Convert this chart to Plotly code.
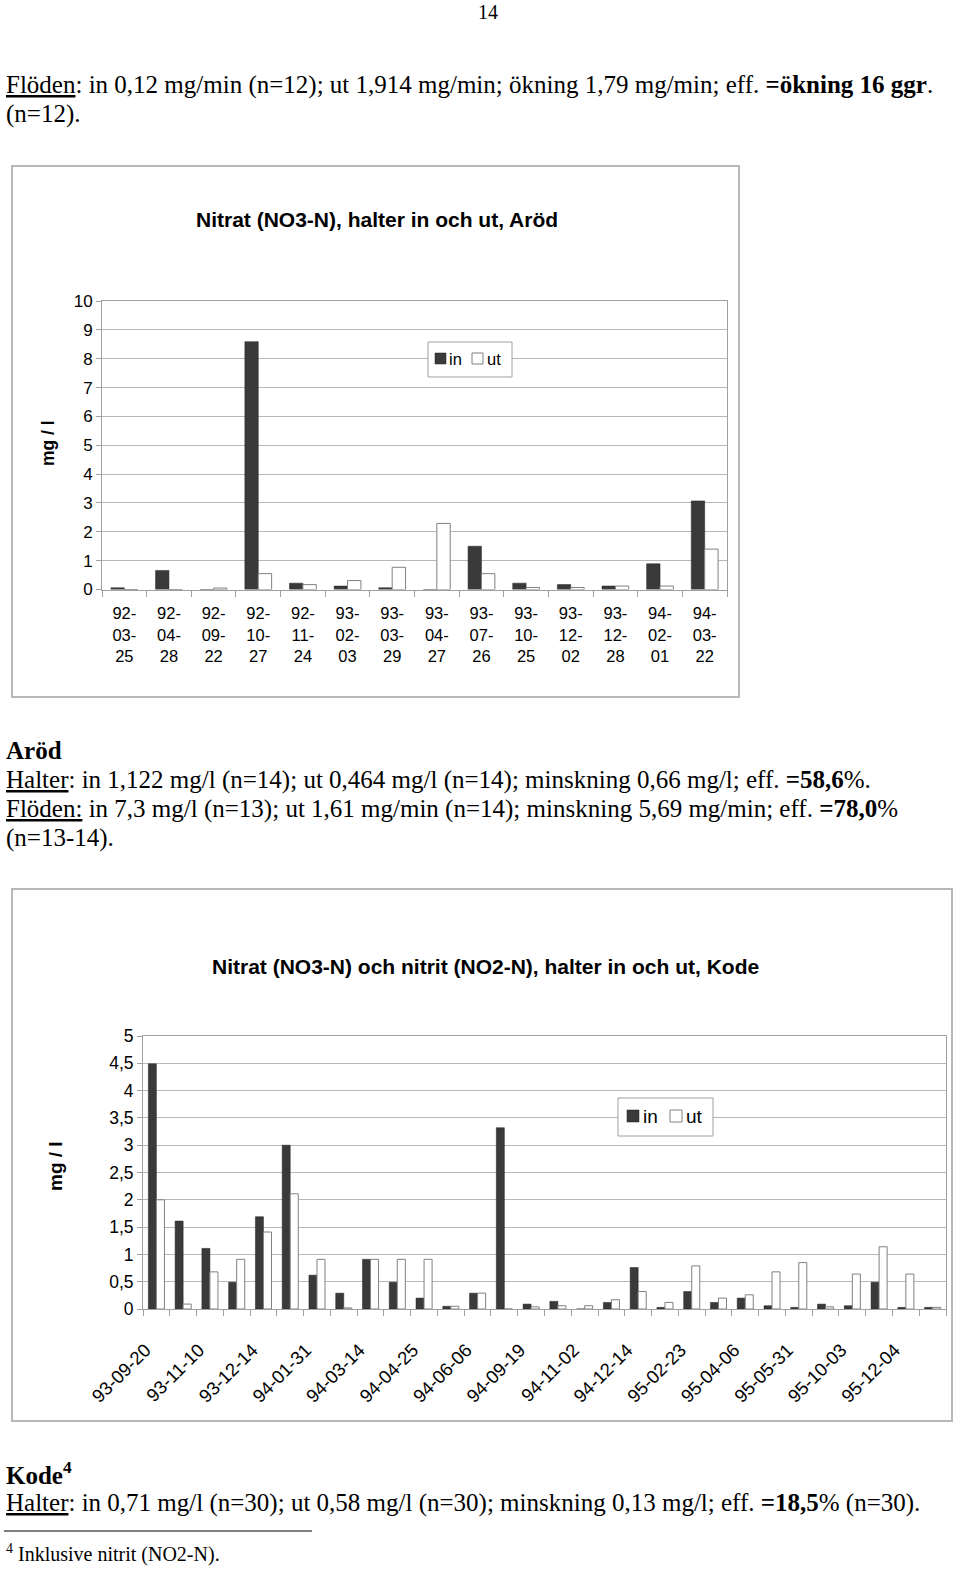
import plotly.graph_objects as go

W, H = 960, 1574


def fx(px):
    return px / W


def fy(py):
    return 1 - py / H


# ---------------- data: chart 1 (Aröd) ----------------
aro_dates = ["92-03-25", "92-04-28", "92-09-22", "92-10-27", "92-11-24", "93-02-03", "93-03-29",
             "93-04-27", "93-07-26", "93-10-25", "93-12-02", "93-12-28", "94-02-01", "94-03-22"]
aro_in = [0.06, 0.66, 0.0, 8.59, 0.22, 0.12, 0.06, 0.0, 1.50, 0.22, 0.17, 0.12, 0.89, 3.07]
aro_ut = [0.0, 0.0, 0.05, 0.55, 0.17, 0.31, 0.77, 2.29, 0.55, 0.07, 0.07, 0.12, 0.12, 1.40]

# ---------------- data: chart 2 (Kode) ----------------
kode_labels = ["93-09-20", "93-11-10", "93-12-14", "94-01-31", "94-03-14", "94-04-25", "94-06-06",
               "94-09-19", "94-11-02", "94-12-14", "95-02-23", "95-04-06", "95-05-31", "95-10-03",
               "95-12-04"]
kode_in = [4.49, 1.61, 1.11, 0.49, 1.69, 3.00, 0.62, 0.29, 0.91, 0.49, 0.20, 0.05, 0.29, 3.32, 0.09,
           0.14, 0.0, 0.12, 0.76, 0.03, 0.32, 0.12, 0.20, 0.06, 0.03, 0.09, 0.06, 0.49, 0.03, 0.03]
kode_ut = [2.00, 0.09, 0.68, 0.91, 1.41, 2.11, 0.91, 0.02, 0.91, 0.91, 0.91, 0.05, 0.29, 0.0, 0.04,
           0.06, 0.06, 0.17, 0.32, 0.12, 0.79, 0.20, 0.26, 0.68, 0.85, 0.04, 0.64, 1.14, 0.64, 0.03]
kode_x = list(range(len(kode_in)))
series_names = ["in", "ut"]

IN_COLOR = "#3a3a3a"
UT_LINE = "#808080"
GRID = "#b8b8b8"
AXL = "#a0a0a0"
SANS = "Arial, Liberation Sans, sans-serif"
SERIF = "Liberation Serif, Times New Roman, serif"

aro_cat = ["<br>".join([d[:3], d[3:6], d[6:]]) for d in aro_dates]

in_marker = dict(color=IN_COLOR, line=dict(color="#222", width=0.5))
ut_marker = dict(color="white", line=dict(color=UT_LINE, width=1))

fig = go.Figure()
fig.add_trace(go.Bar(x=aro_cat, y=aro_in, name=series_names[0], marker=in_marker,
                     xaxis="x", yaxis="y", offsetgroup="a", showlegend=False))
fig.add_trace(go.Bar(x=aro_cat, y=aro_ut, name=series_names[1], marker=ut_marker,
                     xaxis="x", yaxis="y", offsetgroup="b", showlegend=False))
fig.add_trace(go.Bar(x=kode_x, y=kode_in, name=series_names[0], marker=in_marker,
                     xaxis="x2", yaxis="y2", offsetgroup="a", showlegend=False))
fig.add_trace(go.Bar(x=kode_x, y=kode_ut, name=series_names[1], marker=ut_marker,
                     xaxis="x2", yaxis="y2", offsetgroup="b", showlegend=False))

axis_common = dict(showline=True, linecolor=AXL, linewidth=1, mirror=True, zeroline=False,
                   automargin=False)

fig.update_layout(
    width=W, height=H, margin=dict(l=0, r=0, t=0, b=0, autoexpand=False),
    paper_bgcolor="white", plot_bgcolor="white",
    barmode="group", bargap=0.4, bargroupgap=0.0,
    separators=", ",
    showlegend=False,
    font=dict(family=SANS, color="black"),
    xaxis=dict(domain=[fx(102), fx(727)], anchor="y", type="category", tickson="boundaries",
               ticks="outside", ticklen=6, tickcolor=AXL, showgrid=False, ticklabelstandoff=9,
               tickfont=dict(size=16.5, family=SANS), **axis_common),
    yaxis=dict(domain=[fy(589.5), fy(301)], anchor="x", range=[0, 10], dtick=1,
               ticks="outside", ticklen=5, tickcolor=AXL, showgrid=True, gridcolor=GRID,
               tickfont=dict(size=17, family=SANS), **axis_common),
    xaxis2=dict(domain=[fx(143), fx(946)], anchor="y2", range=[-0.5, len(kode_in) - 0.5],
                tickmode="array", tickvals=[2 * i for i in range(len(kode_labels))], ticktext=kode_labels,
                ticks="", tickangle=-45, ticklabelstandoff=22, ticklabelshift=-11, showgrid=False,
                tickfont=dict(size=18.5, family=SANS),
                minor=dict(tickmode="array", tickvals=[i - 0.5 for i in range(len(kode_in) + 1)],
                           ticks="outside", ticklen=6, tickcolor=AXL, showgrid=False),
                **axis_common),
    yaxis2=dict(domain=[fy(1309), fy(1036)], anchor="x2", range=[0, 5], dtick=0.5,
                ticks="outside", ticklen=5, tickcolor=AXL, showgrid=True, gridcolor=GRID,
                tickfont=dict(size=17.5, family=SANS), **axis_common),
)

shapes = [
    dict(type="rect", xref="paper", yref="paper", x0=fx(12), x1=fx(739), y0=fy(697), y1=fy(166),
         line=dict(color="#b8b8b8", width=2)),
    dict(type="rect", xref="paper", yref="paper", x0=fx(12), x1=fx(952), y0=fy(1421), y1=fy(889),
         line=dict(color="#b8b8b8", width=2)),
    dict(type="line", xref="paper", yref="paper", x0=fx(4), x1=fx(312), y0=fy(1531), y1=fy(1531),
         line=dict(color="black", width=1)),
]

ann = []


def text(px, py, s, size=25, family=SERIF, xanchor="left", angle=0):
    ann.append(dict(xref="paper", yref="paper", x=fx(px), y=fy(py), text=s, showarrow=False,
                    xanchor=xanchor, yanchor="middle", textangle=angle,
                    font=dict(size=size, family=family, color="black")))


def legend_box(x0, y0, x1, y1, sq, sq_y, txt_x, txt_y, size):
    shapes.append(dict(type="rect", xref="paper", yref="paper", x0=fx(x0), x1=fx(x1), y0=fy(y1), y1=fy(y0),
                       line=dict(color=AXL, width=1), fillcolor="white", layer="above"))
    shapes.append(dict(type="rect", xref="paper", yref="paper", x0=fx(sq[0]), x1=fx(sq[0] + sq[2]),
                       y0=fy(sq_y + sq[2]), y1=fy(sq_y), line=dict(color="#222", width=0.5),
                       fillcolor=IN_COLOR, layer="above"))
    shapes.append(dict(type="rect", xref="paper", yref="paper", x0=fx(sq[1]), x1=fx(sq[1] + sq[2]),
                       y0=fy(sq_y + sq[2]), y1=fy(sq_y), line=dict(color=UT_LINE, width=1),
                       fillcolor="white", layer="above"))
    text(txt_x[0], txt_y, series_names[0], size=size, family=SANS)
    text(txt_x[1], txt_y, series_names[1], size=size, family=SANS)


legend_box(428, 342, 512, 377, (435, 472, 11), 353, (447, 485), 358.5, 16.5)
legend_box(618, 1098, 713, 1136, (627, 670, 12), 1110, (641, 684), 1116.5, 19)

text(488, 12, "14", size=20, xanchor="center")
text(4, 85, "<u>Flöden</u>: in 0,12 mg/min (n=12); ut 1,914 mg/min; ökning 1,79 mg/min; eff. <b>=ökning 16 ggr</b>.")
text(4, 114, "(n=12).")
text(377, 219, "<b>Nitrat (NO3-N), halter in och ut, Aröd</b>", size=21, family=SANS, xanchor="center")
text(48, 443, "<b>mg / l</b>", size=17.5, family=SANS, xanchor="center", angle=-90)
text(4, 750, "<b>Aröd</b>")
text(4, 780, "<u>Halter</u>: in 1,122 mg/l (n=14); ut 0,464 mg/l (n=14); minskning 0,66 mg/l; eff. <b>=58,6</b>%.")
text(4, 809, "<u>Flöden:</u> in 7,3 mg/l (n=13); ut 1,61 mg/min (n=14); minskning 5,69 mg/min; eff. <b>=78,0</b>%")
text(4, 838, "(n=13-14).")
text(485, 966, "<b>Nitrat (NO3-N) och nitrit (NO2-N), halter in och ut, Kode</b>", size=21, family=SANS, xanchor="center")
text(55, 1166, "<b>mg / l</b>", size=19, family=SANS, xanchor="center", angle=-90)
text(4, 1473, "<b>Kode<sup>4</sup></b>")
text(4, 1503, "<u>Halter</u>: in 0,71 mg/l (n=30); ut 0,58 mg/l (n=30); minskning 0,13 mg/l; eff. <b>=18,5</b>% (n=30).")
text(4, 1553, "<sup>4</sup> Inklusive nitrit (NO2-N).", size=20)

fig.update_layout(shapes=shapes, annotations=ann)

fig.write_html("out.html")
